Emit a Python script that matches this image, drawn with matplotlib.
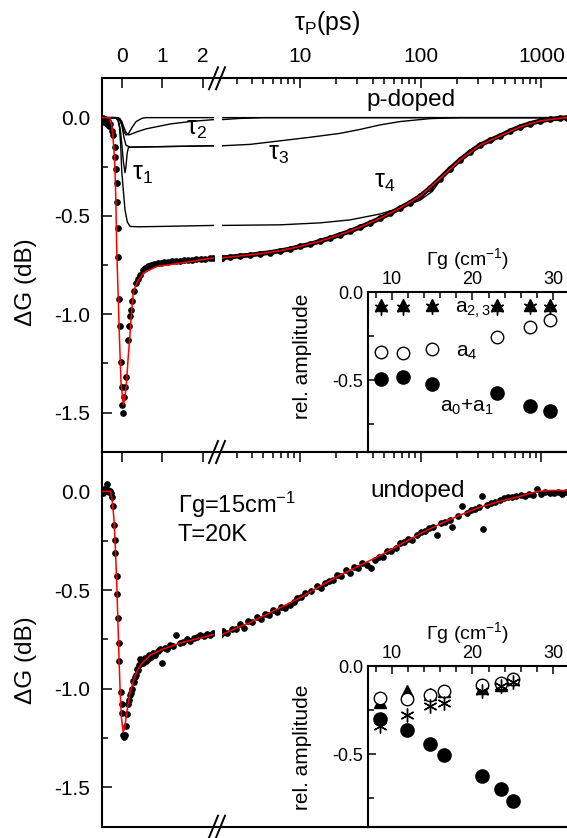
import matplotlib
matplotlib.use("Agg")
import matplotlib.pyplot as plt
import matplotlib.ticker as ticker
from matplotlib.lines import Line2D

plt.rcParams["font.family"] = ["Liberation Sans", "DejaVu Sans"]
plt.rcParams["mathtext.fontset"] = "custom"
plt.rcParams["mathtext.rm"] = "Liberation Sans"
plt.rcParams["mathtext.it"] = "Liberation Sans:italic"
plt.rcParams["axes.unicode_minus"] = False

# ---------------- data: p-doped (top panel) ----------------
pd_t = [-0.50, -0.47, -0.44, -0.41, -0.38, -0.35, -0.32, -0.29, -0.25, -0.21,
        -0.18, -0.16, -0.14, -0.13, -0.11, -0.10, -0.09, -0.07, -0.05, -0.03,
        -0.01, 0.01, 0.035, 0.06, 0.08, 0.10, 0.14, 0.18, 0.20, 0.22,
        0.25, 0.30, 0.35, 0.40, 0.45, 0.52, 0.58, 0.65, 0.72, 0.80,
        0.88, 0.96, 1.05, 1.14, 1.23, 1.33, 1.43, 1.53, 1.63, 1.73,
        1.84, 1.95, 2.06, 2.17, 2.26]
pd_g = [-0.01, 0.0, -0.02, -0.005, -0.03, -0.015, -0.04, -0.03, -0.07, -0.09,
        -0.15, -0.20, -0.26, -0.33, -0.43, -0.56, -0.71, -0.92, -1.06, -1.24,
        -1.37, -1.46, -1.50, -1.42, -1.37, -1.32, -1.13, -1.06, -1.01, -0.98,
        -0.93, -0.88, -0.84, -0.82, -0.80, -0.775, -0.765, -0.755, -0.75, -0.745,
        -0.74, -0.74, -0.735, -0.735, -0.73, -0.73, -0.728, -0.726, -0.724, -0.722,
        -0.72, -0.718, -0.717, -0.716, -0.715]
pd_t_log = [2.27, 2.64, 3.20, 3.87, 4.68, 5.66, 6.86, 8.30, 10.0, 12.1,
            14.7, 17.8, 21.5, 26.0, 31.5, 38.1, 46.1, 55.8, 67.5, 81.7,
            98.8, 119.6, 144.7, 175, 212, 256, 310, 375, 454, 550,
            665, 805, 974, 1178, 1426, 1630]
pd_g_log = [-0.712, -0.709, -0.703, -0.699, -0.692, -0.686, -0.677, -0.668, -0.655, -0.644,
            -0.628, -0.613, -0.595, -0.578, -0.557, -0.536, -0.512, -0.487, -0.46, -0.432,
            -0.40, -0.358, -0.31, -0.26, -0.215, -0.175, -0.14, -0.115, -0.093, -0.068,
            -0.047, -0.03, -0.017, -0.008, -0.003, 0.0]
pd_fit_t = [-0.50, -0.30, -0.25, -0.20, -0.17, -0.15, -0.128, -0.089, -0.064, -0.022,
            0.035, 0.077, 0.119, 0.158, 0.20, 0.242, 0.281, 0.365, 0.528, 0.86,
            1.68, 2.27, 3.20, 4.68, 6.86, 10.0, 14.7, 21.5, 31.5, 46.1,
            67.5, 98.8, 144.7, 212, 310, 454, 665, 974, 1426, 1630]
pd_fit_g = [0.0, 0.0, -0.04, -0.15, -0.27, -0.42, -0.67, -0.93, -1.10, -1.35,
            -1.46, -1.42, -1.33, -1.21, -1.10, -0.98, -0.89, -0.84, -0.79, -0.757,
            -0.732, -0.713, -0.703, -0.692, -0.677, -0.655, -0.628, -0.595, -0.557, -0.512,
            -0.46, -0.40, -0.31, -0.215, -0.14, -0.093, -0.047, -0.017, -0.003, 0.0]

# fit components
compA_t = [-0.5, -0.2, -0.1, -0.05, 0.0, 0.05, 0.10, 0.15, 0.25, 0.35, 0.5, 0.6, 2.27, 1630]
compA_g = [0, 0, -0.005, -0.015, -0.035, -0.07, -0.088, -0.085, -0.05, -0.02, -0.003, 0, 0, 0]
tau1_t = [-0.5, -0.15, -0.08, -0.04, 0.0, 0.04, 0.077, 0.10, 0.13, 0.16, 0.25, 2.27]
tau1_g = [0, 0, -0.02, -0.06, -0.14, -0.23, -0.28, -0.25, -0.18, -0.152, -0.15, -0.143]
tau2_t = [-0.5, -0.1, -0.05, 0.0, 0.05, 0.10, 0.17, 0.25, 0.4, 0.6, 0.86, 1.2, 1.68, 2.27, 3.2, 5.0, 1630]
tau2_g = [0, 0, -0.005, -0.02, -0.05, -0.075, -0.088, -0.082, -0.07, -0.057, -0.046, -0.032, -0.02,
          -0.01, -0.004, 0.0, 0.0]
tau3_t = [-0.5, -0.1, -0.05, 0.0, 0.05, 0.10, 0.2, 2.27, 3.87, 6.86, 12.1, 21.5, 31.5, 46.1, 67.5,
          120, 212, 1630]
tau3_g = [0, 0, -0.01, -0.04, -0.10, -0.14, -0.15, -0.143, -0.136, -0.118, -0.10, -0.08, -0.06,
          -0.037, -0.02, -0.005, 0.0, 0.0]
tau4_t = [-0.5, -0.15, -0.1, -0.06, -0.03, -0.005, 0.035, 0.077, 0.133, 0.2, 0.4, 1.0, 2.27, 6.86,
          14.7, 26.0, 46.1, 67.5, 98.8, 125, 145, 175, 212, 256, 310, 375, 454, 550, 665, 805,
          974, 1178, 1426, 1630]
tau4_g = [0, 0, -0.01, -0.05, -0.14, -0.27, -0.37, -0.47, -0.53, -0.553, -0.555, -0.553, -0.548,
          -0.545, -0.535, -0.52, -0.49, -0.46, -0.42, -0.375, -0.32, -0.265, -0.215, -0.175,
          -0.14, -0.115, -0.093, -0.068, -0.047, -0.03, -0.017, -0.008, -0.003, 0.0]

# ---------------- data: undoped (bottom panel) ----------------
ud_t = [-0.49, -0.46, -0.44, -0.41, -0.375, -0.34, -0.31, -0.29, -0.27, -0.245,
        -0.21, -0.195, -0.17, -0.163, -0.128, -0.121, -0.096, -0.072, -0.064, -0.03,
        -0.005, 0.01, 0.035, 0.05, 0.069, 0.10, 0.126, 0.158, 0.18, 0.20,
        0.23, 0.25, 0.28, 0.30, 0.33, 0.35, 0.38, 0.40, 0.43, 0.45,
        0.48, 0.52, 0.56, 0.60, 0.64, 0.68, 0.72, 0.77, 0.82, 0.88,
        0.94, 0.98, 1.06, 1.12, 1.19, 1.26, 1.34, 1.43, 1.52, 1.60,
        1.68, 1.77, 1.85, 1.93, 2.02, 2.10, 2.18, 2.26]
ud_g = [0.0, -0.01, 0.01, 0.0, 0.04, 0.005, -0.005, 0.0, -0.01, -0.03,
        -0.076, -0.17, -0.245, -0.31, -0.43, -0.52, -0.64, -0.77, -0.86, -1.015,
        -1.08, -1.125, -1.235, -1.245, -1.235, -1.19, -1.13, -1.08, -1.06, -1.03,
        -1.02, -1.0, -0.96, -0.965, -0.94, -0.93, -0.90, -0.905, -0.88, -0.85,
        -0.87, -0.87, -0.845, -0.86, -0.85, -0.83, -0.84, -0.82, -0.83, -0.81,
        -0.80, -0.87, -0.795, -0.80, -0.78, -0.785, -0.73, -0.77, -0.765, -0.75,
        -0.76, -0.745, -0.74, -0.73, -0.735, -0.725, -0.73, -0.72]
ud_t_log = [2.32, 2.5, 2.75, 2.95, 3.19, 3.45, 3.72, 4.05, 4.39, 4.75,
            5.16, 5.6, 6.03, 6.5, 6.99, 7.6, 8.3, 8.9, 9.43, 10.2,
            11.0, 12.3, 13.8, 15.0, 16.2, 17.5, 18.9, 20.3, 21.9, 24.0,
            26.0, 28.0, 30.3, 33.0, 35.7, 38.5, 41.8, 45.0, 49.0, 53.0,
            56.9, 62.0, 67.4, 72.5, 78.4, 85.0, 92.6, 100, 108.7, 117,
            127, 137, 147, 160, 175, 181, 204, 219, 240, 260,
            282, 305, 320, 331, 355, 382, 415, 454, 490, 530,
            575, 621, 675, 729, 790, 854, 920, 991, 1080, 1180,
            1270, 1370, 1480, 1600]
ud_g_log = [-0.71, -0.72, -0.695, -0.70, -0.67, -0.69, -0.655, -0.66, -0.635, -0.645,
            -0.62, -0.625, -0.60, -0.61, -0.585, -0.59, -0.575, -0.56, -0.54, -0.535,
            -0.515, -0.505, -0.48, -0.49, -0.465, -0.455, -0.45, -0.425, -0.43, -0.40,
            -0.415, -0.385, -0.39, -0.365, -0.372, -0.39, -0.35, -0.33, -0.33, -0.30,
            -0.30, -0.285, -0.262, -0.255, -0.24, -0.245, -0.22, -0.205, -0.20, -0.185,
            -0.178, -0.22, -0.16, -0.155, -0.144, -0.178, -0.125, -0.076, -0.11, -0.095,
            -0.09, -0.08, -0.025, -0.19, -0.07, -0.06, -0.055, -0.042, -0.035, -0.03,
            -0.028, -0.025, -0.02, -0.022, -0.015, -0.017, 0.01, -0.012, -0.005, -0.008,
            -0.01, -0.005, -0.012, -0.005]
ud_fit_t = [-0.5, -0.29, -0.25, -0.2, -0.17, -0.13, -0.1, -0.07, -0.04, -0.01,
            0.03, 0.07, 0.1, 0.15, 0.2, 0.3, 0.4, 0.5, 0.7, 1.0,
            1.5, 2.0, 2.27, 3.87, 6.86, 10.0, 14.7, 21.5, 31.5, 46.1,
            67.5, 98.8, 144.7, 212, 310, 454, 665, 930, 1178, 1630]
ud_fit_g = [0.0, 0.0, -0.03, -0.13, -0.25, -0.45, -0.65, -0.86, -1.03, -1.15,
            -1.22, -1.2, -1.15, -1.08, -1.02, -0.95, -0.9, -0.87, -0.83, -0.8,
            -0.765, -0.74, -0.725, -0.665, -0.59, -0.54, -0.48, -0.425, -0.375, -0.325,
            -0.27, -0.215, -0.165, -0.12, -0.08, -0.05, -0.025, 0.0, 0.005, 0.005]

# ---------------- inset data ----------------
gam_p = [8.7, 11.4, 15.0, 23.0, 27.1, 29.6]
tri_p = [-0.075, -0.075, -0.07, -0.075, -0.07, -0.075]
star_p = [-0.088, -0.088, -0.083, -0.088, -0.083, -0.088]
a4_p = [-0.34, -0.345, -0.325, -0.253, -0.20, -0.16]
a01_p = [-0.494, -0.485, -0.52, -0.572, -0.648, -0.675]

gam_u = [8.55, 11.86, 14.74, 16.47, 21.14, 23.53, 25.05]
tri_u = [-0.205, -0.14, -0.16, -0.14, -0.125, -0.105, -0.075]
open_u = [-0.18, -0.187, -0.163, -0.144, -0.107, -0.094, -0.075]
star_u = [-0.337, -0.275, -0.229, -0.21, -0.144, -0.112, -0.088]
fill_u = [-0.298, -0.365, -0.44, -0.506, -0.625, -0.697, -0.762]

W, H = 567, 838
fig = plt.figure(figsize=(W / 100, H / 100), dpi=100)


def fx(px):
    return px / W


def fy(py):
    return 1 - py / H


def style_axes(axl, axr, top_labels):
    axl.set_xlim(-0.504, 2.274)
    axr.set_xscale("log")
    axr.set_xlim(2.27, 1630)
    axl.set_ylim(-1.70, 0.20)
    for ax in (axl, axr):
        ax.spines["right"].set_visible(False)
        for s in ax.spines.values():
            s.set_linewidth(1.5)
        ax.tick_params(which="both", direction="in", width=1.1, labelsize=15)
        ax.tick_params(which="major", length=7)
        ax.tick_params(which="minor", length=4)
        ax.tick_params(axis="x", which="both", top=True, bottom=False,
                       labeltop=top_labels, labelbottom=False, pad=9)
    axr.spines["left"].set_visible(False)
    axr.tick_params(axis="y", which="both", left=False, labelleft=False)
    axl.xaxis.set_major_locator(ticker.FixedLocator([0, 1, 2]))
    axl.xaxis.set_minor_locator(ticker.NullLocator())
    axr.xaxis.set_major_locator(ticker.FixedLocator([10, 100, 1000]))
    axr.xaxis.set_minor_locator(ticker.LogLocator(base=10, subs=range(2, 10), numticks=20))
    axr.xaxis.set_major_formatter(ticker.FuncFormatter(lambda v, p: "%g" % v))
    axr.xaxis.set_minor_formatter(ticker.NullFormatter())
    axl.yaxis.set_major_locator(ticker.MultipleLocator(0.5))
    axl.yaxis.set_minor_locator(ticker.MultipleLocator(0.25))
    axl.yaxis.set_major_formatter(ticker.FormatStrFormatter("%.1f"))
    axl.tick_params(axis="y", which="both", left=True, right=False, pad=8)


def style_inset(ax):
    ax.set_xlim(7.1, 31.7)
    ax.set_ylim(-0.91, 0.0)
    ax.set_facecolor("none")
    ax.spines["right"].set_visible(False)
    for s in ax.spines.values():
        s.set_linewidth(1.5)
    ax.xaxis.set_major_locator(ticker.FixedLocator([10, 20, 30]))
    ax.xaxis.set_minor_locator(ticker.MultipleLocator(2))
    ax.yaxis.set_major_locator(ticker.FixedLocator([0.0, -0.5]))
    ax.yaxis.set_minor_locator(ticker.FixedLocator([-0.25, -0.75]))
    ax.yaxis.set_major_formatter(ticker.FormatStrFormatter("%.1f"))
    ax.tick_params(which="both", direction="in", width=1.1, labelsize=13)
    ax.tick_params(which="major", length=6)
    ax.tick_params(which="minor", length=4)
    ax.tick_params(axis="x", which="both", top=True, bottom=False,
                   labeltop=True, labelbottom=False, pad=3)
    ax.xaxis.set_label_position("top")
    ax.set_xlabel("\u0393g (cm$^{-1}$)", fontsize=14, labelpad=4)


# panel geometry in pixels
left_x0, left_x1, right_x0, right_x1 = 101.5, 214, 222, 567
top_y0, mid_y, bot_y = 78.3, 452, 826.7

panels = []
for (y0, y1, lab) in ((top_y0, mid_y, True), (mid_y, bot_y, False)):
    axl = fig.add_axes([fx(left_x0), fy(y1), (left_x1 - left_x0) / W, (y1 - y0) / H])
    axr = fig.add_axes([fx(right_x0), fy(y1), (right_x1 - right_x0) / W, (y1 - y0) / H],
                       sharey=axl)
    style_axes(axl, axr, lab)
    panels.append((axl, axr))

# ---- top panel
axl, axr = panels[0]
for ax in (axl, axr):
    for tt, gg in ((compA_t, compA_g), (tau1_t, tau1_g), (tau2_t, tau2_g),
                   (tau3_t, tau3_g), (tau4_t, tau4_g)):
        ax.plot(tt, gg, color="black", lw=1.0, zorder=2)
    ax.plot(pd_t, pd_g, "o", color="black", ms=3.8, zorder=3)
axr.plot(pd_t_log, pd_g_log, "o-", color="black", ms=3.8, lw=3.4, zorder=3)
for ax in (axl, axr):
    ax.plot(pd_fit_t, pd_fit_g, color="red", lw=1.1, zorder=4)

# ---- bottom panel
axl2, axr2 = panels[1]
for ax in (axl2, axr2):
    ax.plot(ud_t, ud_g, "o", color="black", ms=3.8, zorder=3)
axr2.plot(ud_t_log, ud_g_log, "o", color="black", ms=3.8, zorder=3)
for ax in (axl2, axr2):
    ax.plot(ud_fit_t, ud_fit_g, color="red", lw=1.1, zorder=4)

# broken-axis marks
for yp in (top_y0, mid_y, bot_y):
    fig.add_artist(Line2D([fx(left_x1), fx(right_x0)], [fy(yp), fy(yp)], color="black", lw=1.5))
    for dx in (0, 7):
        fig.add_artist(Line2D([fx(209 + dx), fx(218 + dx)], [fy(yp + 11), fy(yp - 11)],
                              color="black", lw=1.4))

# texts
fig.text(fx(327), fy(23), "\u03c4$_\\mathrm{P}$(ps)", fontsize=18, ha="center", va="center")
fig.text(fx(26), fy(282), "\u0394G (dB)", fontsize=17.5, rotation=90, ha="center", va="center")
fig.text(fx(26), fy(660), "\u0394G (dB)", fontsize=17.5, rotation=90, ha="center", va="center")
fig.text(fx(411), fy(106), "p-doped", fontsize=17.5, ha="center", va="baseline")
fig.text(fx(418), fy(497), "undoped", fontsize=17.5, ha="center", va="baseline")
fig.text(fx(178), fy(513), "\u0393g=15cm$^{-1}$", fontsize=17, ha="left", va="baseline")
fig.text(fx(178), fy(541), "T=20K", fontsize=17, ha="left", va="baseline")
fig.text(fx(132), fy(180), "\u03c4$_1$", fontsize=18, ha="left", va="baseline")
fig.text(fx(186), fy(135), "\u03c4$_2$", fontsize=18, ha="left", va="baseline")
fig.text(fx(268), fy(160), "\u03c4$_3$", fontsize=18, ha="left", va="baseline")
fig.text(fx(374), fy(188), "\u03c4$_4$", fontsize=18, ha="left", va="baseline")

# ---- insets
ins1 = fig.add_axes([fx(368.3), fy(mid_y), (W - 368.3) / W, (mid_y - 292.3) / H], zorder=5)
style_inset(ins1)
ins1.plot(gam_p, star_p, linestyle="none", marker=(6, 2, 0), ms=10, mec="black", mew=1.0)
ins1.plot(gam_p, tri_p, "^", color="black", ms=8)
ins1.plot(gam_p, a4_p, "o", mfc="white", mec="black", mew=1.0, ms=9)
ins1.plot(gam_p, a01_p, "o", color="black", ms=9.5)
fig.text(fx(455), fy(313), "a$_{2,3}$", fontsize=15, ha="left", va="baseline")
fig.text(fx(456), fy(357), "a$_4$", fontsize=15, ha="left", va="baseline")
fig.text(fx(440), fy(412), "a$_0$+a$_1$", fontsize=15, ha="left", va="baseline")
fig.text(fx(303), fy(356), "rel. amplitude", fontsize=15, rotation=90, ha="center", va="center")

ins2 = fig.add_axes([fx(368.3), fy(bot_y), (W - 368.3) / W, (bot_y - 666) / H], zorder=5)
style_inset(ins2)
ins2.plot(gam_u, tri_u, "^", color="black", ms=8)
ins2.plot(gam_u, open_u, "o", mfc="white", mec="black", mew=1.0, ms=9)
ins2.plot(gam_u, star_u, linestyle="none", marker=(6, 2, 0), ms=10, mec="black", mew=1.0)
ins2.plot(gam_u, fill_u, "o", color="black", ms=9.5)
fig.text(fx(303), fy(747), "rel. amplitude", fontsize=15, rotation=90, ha="center", va="center")

fig.savefig("out.png", dpi=100)
